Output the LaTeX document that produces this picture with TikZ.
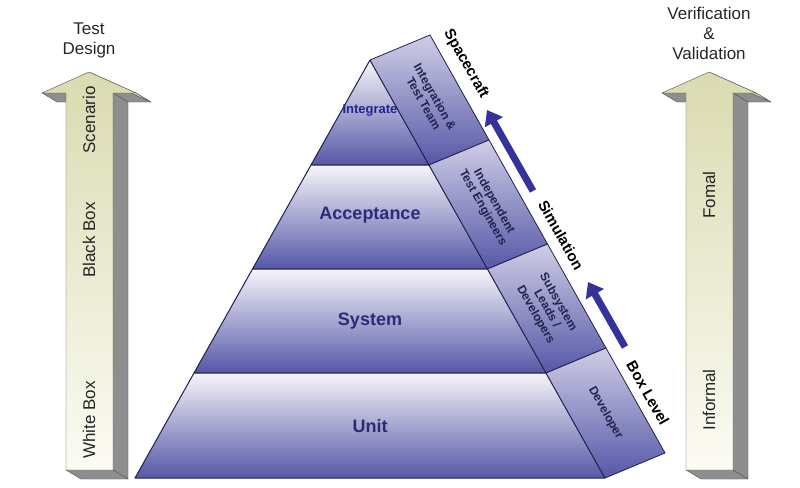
\documentclass[tikz,border=0pt]{standalone}
\usepackage{fontspec}
\setmainfont{Liberation Sans}
\usetikzlibrary{arrows.meta,calc}

\definecolor{tierblue}{HTML}{5557A7}
\definecolor{tiertop}{HTML}{F6F5F9}
\definecolor{bandtop}{HTML}{CFCEE6}
\definecolor{tieredge}{HTML}{1F1F4C}
\definecolor{tiertext}{HTML}{2B2B78}
\definecolor{bandtext}{HTML}{22224E}
\definecolor{arrowblue}{HTML}{34339A}
\definecolor{creamtop}{HTML}{DADBB0}
\definecolor{creambot}{HTML}{FBFBF4}
\definecolor{creamside}{HTML}{CFD0A6}
\definecolor{shadowgray}{HTML}{8E8E8E}
\definecolor{edgegray}{HTML}{4F5548}

\begin{document}
\begin{tikzpicture}[x=1pt, y=-1pt, line join=round,
  tier face/.style={top color=tiertop, bottom color=tierblue, draw=tieredge, line width=1pt},
  band face/.style={top color=bandtop, bottom color=tierblue, draw=tieredge, line width=0.8pt},
  tier label/.style={font=\fontsize{18}{20}\selectfont\bfseries, text=tiertext},
  band label/.style={font=\fontsize{12}{13}\selectfont\bfseries, text=bandtext, align=center, rotate=-60.6},
  side label/.style={font=\fontsize{15}{17}\selectfont\bfseries, rotate=-60.6},
  level arrow/.style={-{Triangle[width=20pt,length=14pt]}, line width=7pt, draw=arrowblue},
  post text/.style={font=\fontsize{17}{19}\selectfont, rotate=90, text=black!85},
  head text/.style={font=\fontsize{17}{20}\selectfont, align=center, text=black!85}]

\useasboundingbox (0,0) rectangle (800,487);

% the two big arrows at the sides
\foreach \xs in {0,620} {
  \begin{scope}[xshift=\xs]
    \filldraw[fill=shadowgray, draw=edgegray] (42,93) -- (66,93) -- (81,102) -- (57,102) -- cycle;
    \filldraw[fill=shadowgray, draw=edgegray] (113,93) -- (136,93) -- (151,102) -- (128,102) -- cycle;
    \filldraw[fill=shadowgray, draw=edgegray] (113,93) -- (128,102) -- (128,479) -- (113,470) -- cycle;
    \filldraw[fill=shadowgray, draw=edgegray] (66,470) -- (113,470) -- (128,479) -- (81,479) -- cycle;
    \filldraw[fill=creamside, draw=edgegray] (89,72) -- (104,81) -- (151,102) -- (136,93) -- cycle;
    \path[top color=creamtop, bottom color=creambot, draw=edgegray]
      (66,470) -- (66,93) -- (42,93) -- (89,72) -- (136,93) -- (113,93) -- (113,470) -- cycle;
  \end{scope}
}

\node[head text] (design) at (89,40) {Test\\Design};
\node[post text] (scenario) at (89,120) {Scenario};
\node[post text] (blackbox) at (89,240) {Black Box};
\node[post text] (whitebox) at (89,420) {White Box};

\node[head text] (vandv) at (709,33) {Verification\\\&\\Validation};
\node[post text] (formal) at (709,195) {Fomal};
\node[post text] (informal) at (709,400) {Informal};

% pyramid front
\coordinate (t0) at (370,60);
\coordinate (l1) at (311,165);   \coordinate (r1) at (429,165);
\coordinate (l2) at (252.5,269); \coordinate (r2) at (487.5,269);
\coordinate (l3) at (194,373);   \coordinate (r3) at (546,373);
\coordinate (l4) at (135,478);   \coordinate (r4) at (605,478);

% pyramid side band
\coordinate (b0) at ($(t0)+(60,-25)$);
\coordinate (b1) at ($(r1)+(60,-25)$);
\coordinate (b2) at ($(r2)+(60,-25)$);
\coordinate (b3) at ($(r3)+(60,-25)$);
\coordinate (b4) at ($(r4)+(60,-25)$);

\path[tier face] (t0) -- (r1) -- (l1) -- cycle;
\path[tier face] (l1) -- (r1) -- (r2) -- (l2) -- cycle;
\path[tier face] (l2) -- (r2) -- (r3) -- (l3) -- cycle;
\path[tier face] (l3) -- (r3) -- (r4) -- (l4) -- cycle;

\path[band face] (t0) -- (b0) -- (b1) -- (r1) -- cycle;
\path[band face] (r1) -- (b1) -- (b2) -- (r2) -- cycle;
\path[band face] (r2) -- (b2) -- (b3) -- (r3) -- cycle;
\path[band face] (r3) -- (b3) -- (b4) -- (r4) -- cycle;

\node[tier label, font=\fontsize{13}{15}\selectfont\bfseries, text=tiertext!80!blue] (integrate) at (370,110) {Integrate};
\node[tier label] (acceptance) at (370,215) {Acceptance};
\node[tier label] (system) at (370,321) {System};
\node[tier label] (unit) at (370,426) {Unit};

\node[band label] (itteam) at ($(t0)!0.5!(b1)$) {Integration \&\\Test Team};
\node[band label] (indep) at ($(r1)!0.5!(b2)$) {Independent\\Test Engineers};
\node[band label] (subsys) at ($(r2)!0.5!(b3)$) {Subsystem\\Leads /\\Developers};
\node[band label] (dev) at ($(r3)!0.5!(b4)$) {Developer};

% levels along the band
\node[side label] (spacecraft) at (466,64) {Spacecraft};
\node[side label] (simulation) at (561,235) {Simulation};
\node[side label] (boxlevel) at (648,393) {Box Level};

\coordinate (up1 from) at (533,191); \coordinate (up1 to) at (487,110);
\coordinate (up2 from) at (625,347); \coordinate (up2 to) at (588,282);
\draw[level arrow] (up1 from) -- (up1 to);
\draw[level arrow] (up2 from) -- (up2 to);

\end{tikzpicture}
\end{document}
